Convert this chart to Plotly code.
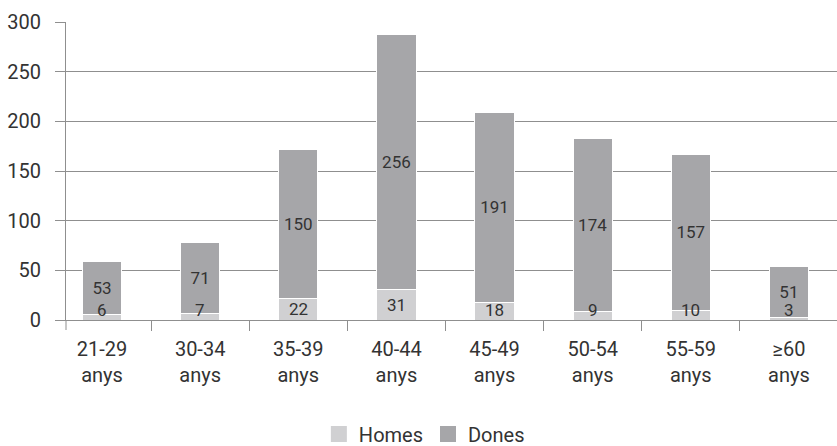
import plotly.graph_objects as go

categories = ["21-29<br>anys", "30-34<br>anys", "35-39<br>anys", "40-44<br>anys",
              "45-49<br>anys", "50-54<br>anys", "55-59<br>anys", "≥60<br>anys"]
homes = [6, 7, 22, 31, 18, 9, 10, 3]
dones = [53, 71, 150, 256, 191, 174, 157, 51]
y_ticks = [0, 50, 100, 150, 200, 250, 300]

HOMES_COLOR = "#d0d0d2"
DONES_COLOR = "#a6a6a9"
AXIS_COLOR = "#8f8f8f"
TEXT_COLOR = "#333333"
FONT = "Roboto"
LABEL_SIZE = 17

fig = go.Figure()
fig.add_trace(go.Bar(
    x=categories, y=homes, name="Homes", marker=dict(color=HOMES_COLOR, line=dict(color="white", width=1)),
    showlegend=False, hoverinfo="skip",
))
fig.add_trace(go.Bar(
    x=categories, y=dones, name="Dones", marker=dict(color=DONES_COLOR, line=dict(color="white", width=1)),
    text=[str(v) for v in dones], textposition="inside", insidetextanchor="middle",
    constraintext="none", textangle=0, textfont=dict(family=FONT, size=LABEL_SIZE, color=TEXT_COLOR),
    showlegend=False, hoverinfo="skip",
))
# legend entries
for name, col in [("Homes", HOMES_COLOR), ("Dones", DONES_COLOR)]:
    fig.add_trace(go.Scatter(x=[None], y=[None], mode="markers", name=name,
                             marker=dict(symbol="square", size=16, color=col)))

# Homes labels: centred in the segment, but kept above the axis when the segment is short
annotations = []
half_text = 10  # data units (~px) of half the label height
for cat, v in zip(categories, homes):
    if v / 2 >= half_text:
        annotations.append(dict(x=cat, y=v / 2, yanchor="middle", text=str(v), showarrow=False,
                                font=dict(family=FONT, size=LABEL_SIZE, color=TEXT_COLOR)))
    else:
        annotations.append(dict(x=cat, y=0, yanchor="bottom", text=str(v), showarrow=False,
                                borderpad=0, yshift=-1,
                                font=dict(family=FONT, size=LABEL_SIZE, color=TEXT_COLOR)))

fig.update_layout(
    width=837, height=446,
    margin=dict(l=66, r=0, t=22, b=126, autoexpand=False),
    barmode="stack", bargap=0.6,
    plot_bgcolor="white", paper_bgcolor="white",
    font=dict(family=FONT, size=20, color=TEXT_COLOR),
    annotations=annotations,
    legend=dict(orientation="h", traceorder="normal",
                x=0.507, xref="container", xanchor="center",
                y=0.027, yref="container", yanchor="middle",
                font=dict(family=FONT, size=20, color=TEXT_COLOR), itemwidth=30),
    xaxis=dict(
        type="category", range=[-0.367, 7.49], automargin=False,
        showline=True, linecolor=AXIS_COLOR, linewidth=1,
        ticks="outside", tickson="boundaries", ticklen=10, tickcolor=AXIS_COLOR,
        ticklabelstandoff=11,
        showgrid=False, tickfont=dict(family=FONT, size=20, color=TEXT_COLOR),
    ),
    yaxis=dict(
        range=[0, 300], tickvals=y_ticks, automargin=False,
        showline=True, linecolor=AXIS_COLOR, linewidth=1,
        ticks="outside", ticklen=10, tickcolor=AXIS_COLOR,
        showgrid=True, gridcolor=AXIS_COLOR, gridwidth=1, zeroline=False,
        ticklabelstandoff=10,
        tickfont=dict(family=FONT, size=20, color=TEXT_COLOR),
    ),
    shapes=[dict(type="line", xref="paper", yref="paper", x0=0, x1=0, y0=0, y1=-10/298,
                 line=dict(color=AXIS_COLOR, width=1))],
)

fig.write_html("out.html")
